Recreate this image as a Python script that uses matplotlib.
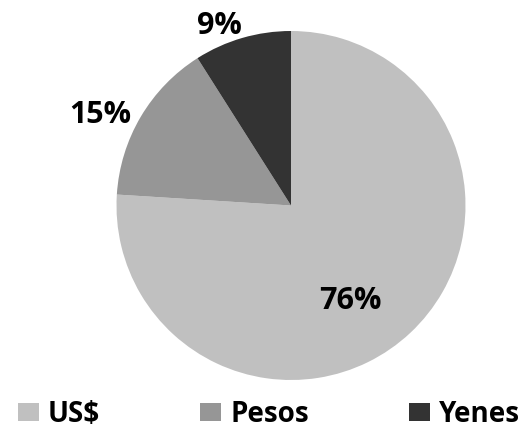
import matplotlib.pyplot as plt
from matplotlib.patches import Patch

monedas = ['US$', 'Pesos', 'Yenes']
porcentajes = [76, 15, 9]
colores = ['#c0c0c0', '#969696', '#333333']
# label positions in pie units (radius = 1)
pos_etiquetas = [(0.34, -0.55), (-1.09, 0.52), (-0.41, 1.03)]

plt.rcParams['font.family'] = ['Open Sans', 'DejaVu Sans']

fig = plt.figure(figsize=(5.21, 4.30), dpi=100)
ax = fig.add_axes([116.5 / 521, 50 / 430, 349 / 521, 349 / 430])
ax.pie(porcentajes, colors=colores, startangle=90, counterclock=False,
       radius=1, wedgeprops={'linewidth': 0})
ax.set_xlim(-1, 1)
ax.set_ylim(-1, 1)
ax.set_aspect('equal')
ax.axis('off')

for p, (x, y) in zip(porcentajes, pos_etiquetas):
    ax.text(x, y, f'{p}%', ha='center', va='center', fontsize=22,
            fontweight='bold', color='black', clip_on=False)

handles = [Patch(facecolor=c, edgecolor='none') for c in colores]
fig.legend(handles, monedas, loc='center left', bbox_to_anchor=(18 / 521, 1 - 414 / 430),
           ncol=3, frameon=False, handlelength=0.75, handleheight=0.62,
           handletextpad=0.32, columnspacing=3.62, borderpad=0, borderaxespad=0,
           prop={'size': 20, 'weight': 'bold'})

fig.savefig('out.png', dpi=100)
